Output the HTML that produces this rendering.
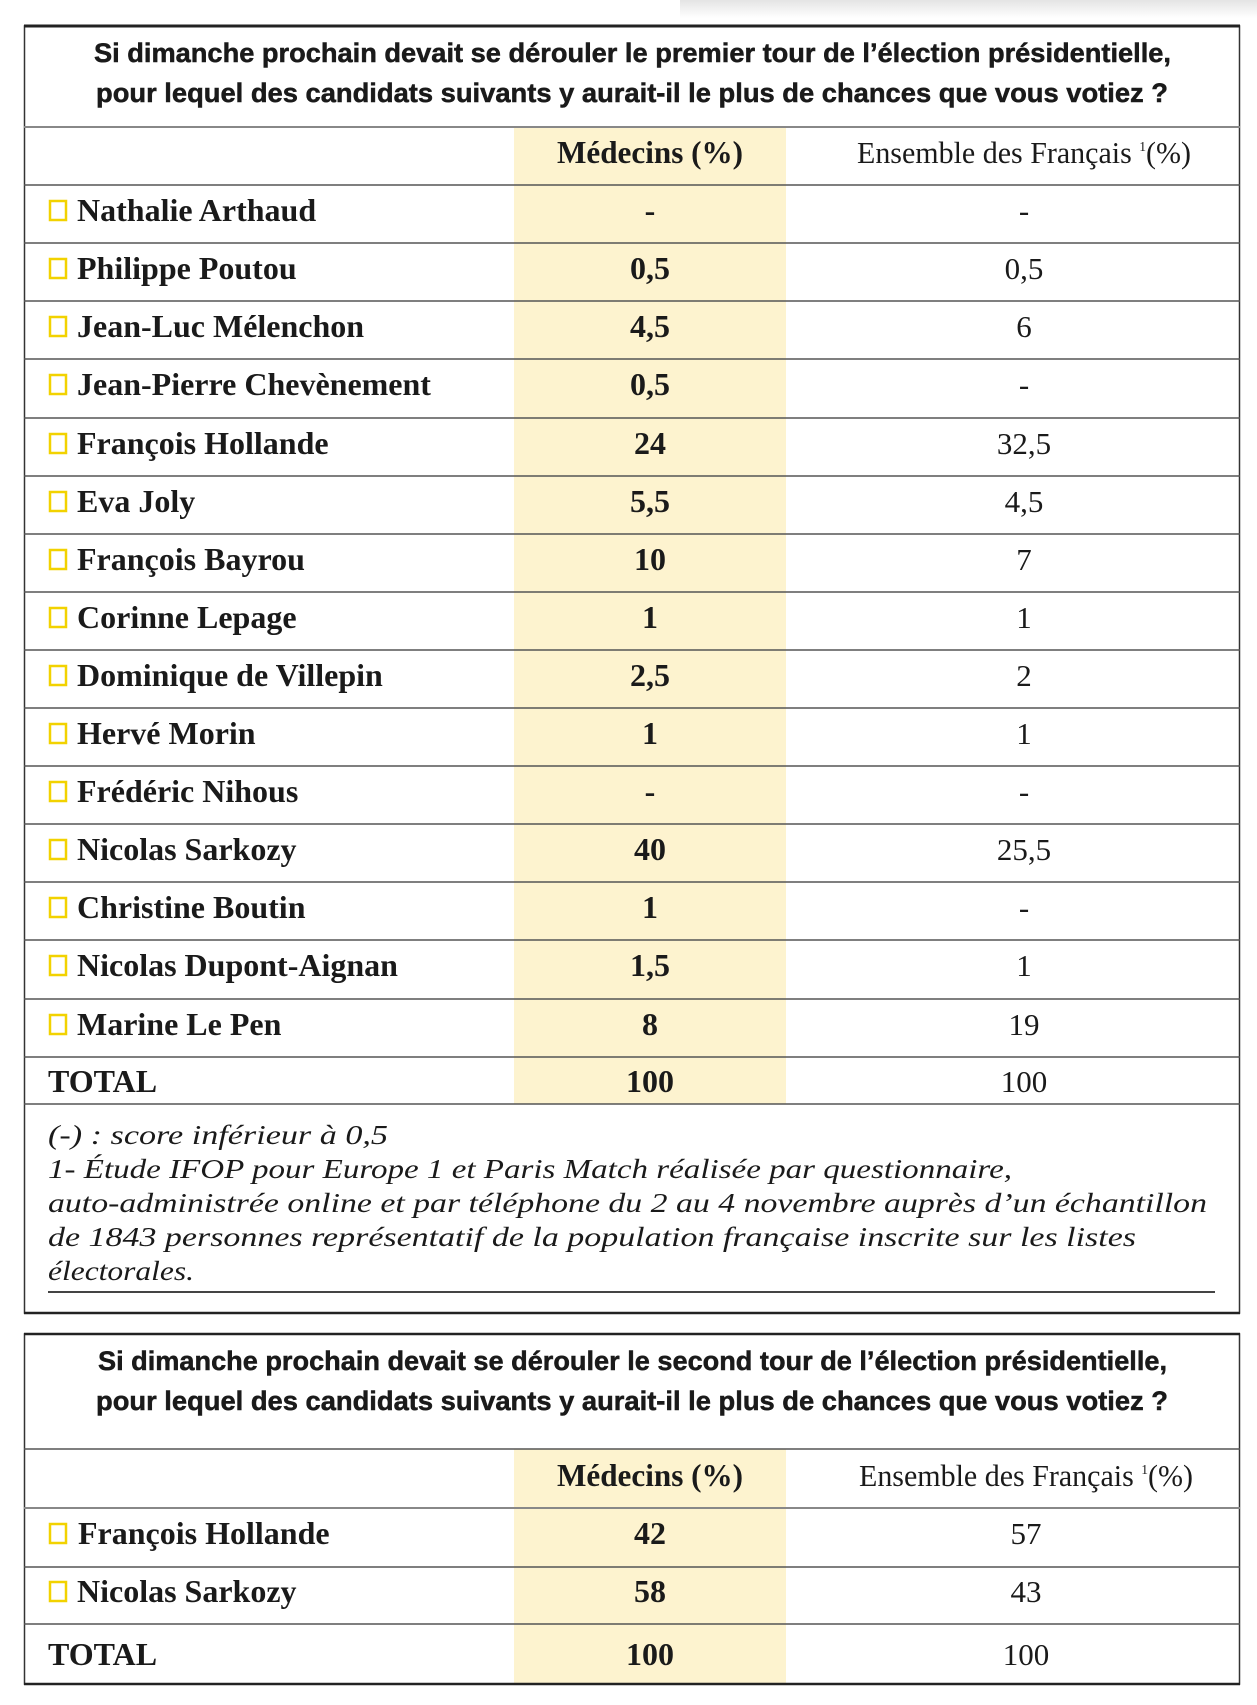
<!DOCTYPE html>
<html><head><meta charset="utf-8"><style>
html,body{margin:0;padding:0;background:#fff;}
svg{display:block;}
.t{font-family:"Liberation Sans Narrow","Liberation Sans",sans-serif;font-weight:bold;font-size:27px;fill:#1a1a1a;stroke:#1a1a1a;stroke-width:0.5;}
.n{font-family:"Liberation Serif",serif;font-weight:bold;font-size:32px;fill:#1a1a1a;}
.v{font-family:"Liberation Serif",serif;font-size:31px;fill:#1a1a1a;}
.f{font-family:"Liberation Serif",serif;font-style:italic;font-size:27px;fill:#1a1a1a;}
</style></head><body>
<svg width="1257" height="1705" viewBox="0 0 1257 1705" xmlns="http://www.w3.org/2000/svg">
<defs><linearGradient id="sh" x1="0" y1="0" x2="0" y2="1"><stop offset="0" stop-color="#e4e4e4"/><stop offset="1" stop-color="#fff"/></linearGradient></defs>
<rect x="680" y="0" width="577" height="18" fill="url(#sh)"/>
<rect x="514" y="127" width="272" height="977" fill="#fdf3cf"/>
<rect x="24.5" y="26" width="1215" height="1287" fill="none" stroke="#333" stroke-width="1.5"/>
<line x1="24" y1="26" x2="1240" y2="26" stroke="#222" stroke-width="3"/>
<line x1="24" y1="1313" x2="1240" y2="1313" stroke="#222" stroke-width="2.5"/>
<text class="t" x="94" y="62" textLength="1077" lengthAdjust="spacingAndGlyphs">Si dimanche prochain devait se dérouler le premier tour de l’élection présidentielle,</text>
<text class="t" x="96" y="102" textLength="1072" lengthAdjust="spacingAndGlyphs">pour lequel des candidats suivants y aurait-il le plus de chances que vous votiez ?</text>
<g stroke="#555" stroke-width="1.5">
<line x1="24" y1="127" x2="1240" y2="127" stroke="#888" stroke-width="2"/>
<line x1="24" y1="185" x2="1240" y2="185"/><line x1="24" y1="243" x2="1240" y2="243"/>
<line x1="24" y1="301" x2="1240" y2="301"/><line x1="24" y1="359" x2="1240" y2="359"/>
<line x1="24" y1="418" x2="1240" y2="418"/><line x1="24" y1="476" x2="1240" y2="476"/>
<line x1="24" y1="534" x2="1240" y2="534"/><line x1="24" y1="592" x2="1240" y2="592"/>
<line x1="24" y1="650" x2="1240" y2="650"/><line x1="24" y1="708" x2="1240" y2="708"/>
<line x1="24" y1="766" x2="1240" y2="766"/><line x1="24" y1="824" x2="1240" y2="824"/>
<line x1="24" y1="882" x2="1240" y2="882"/><line x1="24" y1="940" x2="1240" y2="940"/>
<line x1="24" y1="999" x2="1240" y2="999"/><line x1="24" y1="1057" x2="1240" y2="1057"/>
<line x1="24" y1="1104" x2="1240" y2="1104"/>
</g>
<text class="n" x="557" y="163" textLength="186" lengthAdjust="spacingAndGlyphs">Médecins (%)</text>
<text class="v" x="857" y="163" textLength="334" lengthAdjust="spacingAndGlyphs">Ensemble des Français <tspan font-size="14" dy="-12">1</tspan><tspan dy="12">(%)</tspan></text>
<g fill="none" stroke="#f2d200" stroke-width="2.5">
<rect x="50" y="201" width="16" height="19"/><rect x="50" y="259" width="16" height="19"/><rect x="50" y="317" width="16" height="19"/>
<rect x="50" y="375" width="16" height="19"/><rect x="50" y="434" width="16" height="19"/><rect x="50" y="492" width="16" height="19"/>
<rect x="50" y="550" width="16" height="19"/><rect x="50" y="608" width="16" height="19"/><rect x="50" y="666" width="16" height="19"/>
<rect x="50" y="724" width="16" height="19"/><rect x="50" y="782" width="16" height="19"/><rect x="50" y="840" width="16" height="19"/>
<rect x="50" y="898" width="16" height="19"/><rect x="50" y="956" width="16" height="19"/><rect x="50" y="1015" width="16" height="19"/>
<rect x="50" y="1524" width="16" height="19"/><rect x="50" y="1582" width="16" height="19"/>
</g>
<g class="n">
<text x="77" y="221">Nathalie Arthaud</text><text x="77" y="279">Philippe Poutou</text><text x="77" y="337">Jean-Luc Mélenchon</text>
<text x="77" y="395">Jean-Pierre Chevènement</text><text x="77" y="454">François Hollande</text><text x="77" y="512">Eva Joly</text>
<text x="77" y="570">François Bayrou</text><text x="77" y="628">Corinne Lepage</text><text x="77" y="686">Dominique de Villepin</text>
<text x="77" y="744">Hervé Morin</text><text x="77" y="802">Frédéric Nihous</text><text x="77" y="860">Nicolas Sarkozy</text>
<text x="77" y="918">Christine Boutin</text><text x="77" y="976">Nicolas Dupont-Aignan</text><text x="77" y="1035">Marine Le Pen</text>
<text x="48" y="1092">TOTAL</text>
</g>
<g class="n" text-anchor="middle">
<text x="650" y="221">-</text><text x="650" y="279">0,5</text><text x="650" y="337">4,5</text><text x="650" y="395">0,5</text>
<text x="650" y="454">24</text><text x="650" y="512">5,5</text><text x="650" y="570">10</text><text x="650" y="628">1</text>
<text x="650" y="686">2,5</text><text x="650" y="744">1</text><text x="650" y="802">-</text><text x="650" y="860">40</text>
<text x="650" y="918">1</text><text x="650" y="976">1,5</text><text x="650" y="1035">8</text><text x="650" y="1092">100</text>
</g>
<g class="v" text-anchor="middle">
<text x="1024" y="221">-</text><text x="1024" y="279">0,5</text><text x="1024" y="337">6</text><text x="1024" y="395">-</text>
<text x="1024" y="454">32,5</text><text x="1024" y="512">4,5</text><text x="1024" y="570">7</text><text x="1024" y="628">1</text>
<text x="1024" y="686">2</text><text x="1024" y="744">1</text><text x="1024" y="802">-</text><text x="1024" y="860">25,5</text>
<text x="1024" y="918">-</text><text x="1024" y="976">1</text><text x="1024" y="1035">19</text><text x="1024" y="1092">100</text>
</g>
<text class="f" x="48" y="1144" textLength="340" lengthAdjust="spacingAndGlyphs">(-) : score inférieur à 0,5</text>
<text class="f" x="48" y="1178" textLength="964" lengthAdjust="spacingAndGlyphs">1- Étude IFOP pour Europe 1 et Paris Match réalisée par questionnaire,</text>
<text class="f" x="48" y="1212" textLength="1159" lengthAdjust="spacingAndGlyphs">auto-administrée online et par téléphone du 2 au 4 novembre auprès d’un échantillon</text>
<text class="f" x="48" y="1246" textLength="1088" lengthAdjust="spacingAndGlyphs">de 1843 personnes représentatif de la population française inscrite sur les listes</text>
<text class="f" x="48" y="1280" textLength="146" lengthAdjust="spacingAndGlyphs">électorales.</text>
<line x1="48" y1="1292" x2="1215" y2="1292" stroke="#444" stroke-width="2"/>
<rect x="514" y="1449" width="272" height="235" fill="#fdf3cf"/>
<rect x="24.5" y="1334" width="1215" height="350" fill="none" stroke="#333" stroke-width="1.5"/>
<line x1="24" y1="1334" x2="1240" y2="1334" stroke="#222" stroke-width="2.5"/>
<line x1="24" y1="1684" x2="1240" y2="1684" stroke="#222" stroke-width="2.5"/>
<text class="t" x="98" y="1370" textLength="1069" lengthAdjust="spacingAndGlyphs">Si dimanche prochain devait se dérouler le second tour de l’élection présidentielle,</text>
<text class="t" x="96" y="1410" textLength="1072" lengthAdjust="spacingAndGlyphs">pour lequel des candidats suivants y aurait-il le plus de chances que vous votiez ?</text>
<g stroke="#555" stroke-width="1.5">
<line x1="24" y1="1449" x2="1240" y2="1449"/><line x1="24" y1="1508" x2="1240" y2="1508" stroke="#888" stroke-width="2"/>
<line x1="24" y1="1567" x2="1240" y2="1567"/><line x1="24" y1="1624" x2="1240" y2="1624"/>
</g>
<text class="n" x="557" y="1486" textLength="186" lengthAdjust="spacingAndGlyphs">Médecins (%)</text>
<text class="v" x="859" y="1486" textLength="334" lengthAdjust="spacingAndGlyphs">Ensemble des Français <tspan font-size="14" dy="-12">1</tspan><tspan dy="12">(%)</tspan></text>
<g class="n"><text x="78" y="1544">François Hollande</text><text x="77" y="1602">Nicolas Sarkozy</text><text x="48" y="1665">TOTAL</text></g>
<g class="n" text-anchor="middle"><text x="650" y="1544">42</text><text x="650" y="1602">58</text><text x="650" y="1665">100</text></g>
<g class="v" text-anchor="middle"><text x="1026" y="1544">57</text><text x="1026" y="1602">43</text><text x="1026" y="1665">100</text></g>
</svg>
</body></html>
